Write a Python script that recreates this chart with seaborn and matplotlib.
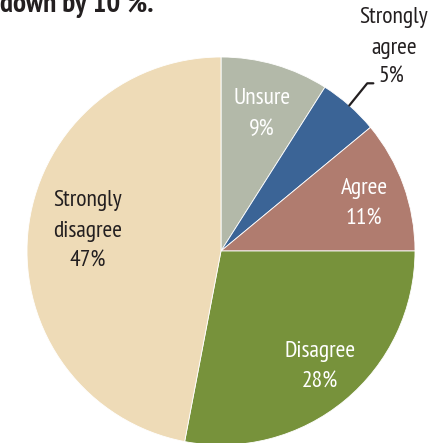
import matplotlib
matplotlib.use('Agg')
import matplotlib.pyplot as plt
import numpy as np
import seaborn as sns

sns.set_theme(style='white')
plt.rcParams['font.family'] = ['PT Sans Narrow', 'DejaVu Sans']

# data
labels = ['Unsure', 'Strongly\nagree', 'Agree', 'Disagree', 'Strongly\ndisagree']
values = [9, 5, 11, 28, 47]
colors = ['#b3b9a9', '#3b6496', '#b07c6f', '#77923b', '#eedbb7']
text_colors = ['white', '#231f20', 'white', 'white', '#231f20']
title = 'down by 10 %.'

# label centres in pixels from the top-left (None = outside label)
label_pos = [(262, 114), None, (364, 204), (320, 367), (88, 231)]

W, H = 448, 443
fig = plt.figure(figsize=(W / 100, H / 100), dpi=100)
ax = fig.add_axes([0, 0, 1, 1])

cx, cy, r = 221, H - 251, 194
wedges, _ = ax.pie(values, colors=colors, startangle=90, counterclock=False,
                   center=(cx, cy), radius=r,
                   wedgeprops=dict(edgecolor='white', linewidth=0.6))
ax.set_xlim(0, W)
ax.set_ylim(0, H)
ax.set_aspect('equal')
ax.axis('off')

fs = 17
ls = 1.6
for w, lab, v, tc, pos in zip(wedges, labels, values, text_colors, label_pos):
    if pos is None:
        # outside label with leader line to the wedge edge
        ang = np.deg2rad((w.theta1 + w.theta2) / 2)
        px, py = cx + r * np.cos(ang), cy + r * np.sin(ang)
        ax.text(394, H - 33, lab, ha='center', va='center', fontsize=fs,
                color=tc, linespacing=ls)
        ax.annotate(f'{v}%', xy=(px, py), xytext=(378, H - 77), ha='left', va='center',
                    fontsize=fs, color=tc,
                    arrowprops=dict(arrowstyle='-', color='#231f20', lw=1.6,
                                    connectionstyle='angle,angleA=180,angleB=51,rad=0',
                                    shrinkA=1, shrinkB=0, relpos=(0, 0.2)))
        continue
    ax.text(pos[0], H - pos[1], f'{lab}\n{v}%', ha='center', va='center',
            fontsize=fs, color=tc, linespacing=ls)

fig.text(0.0, 1 - 12 / H, title, ha='left', va='baseline', fontsize=21,
         fontweight='bold', color='#231f20')

fig.savefig('out.png', dpi=100)
